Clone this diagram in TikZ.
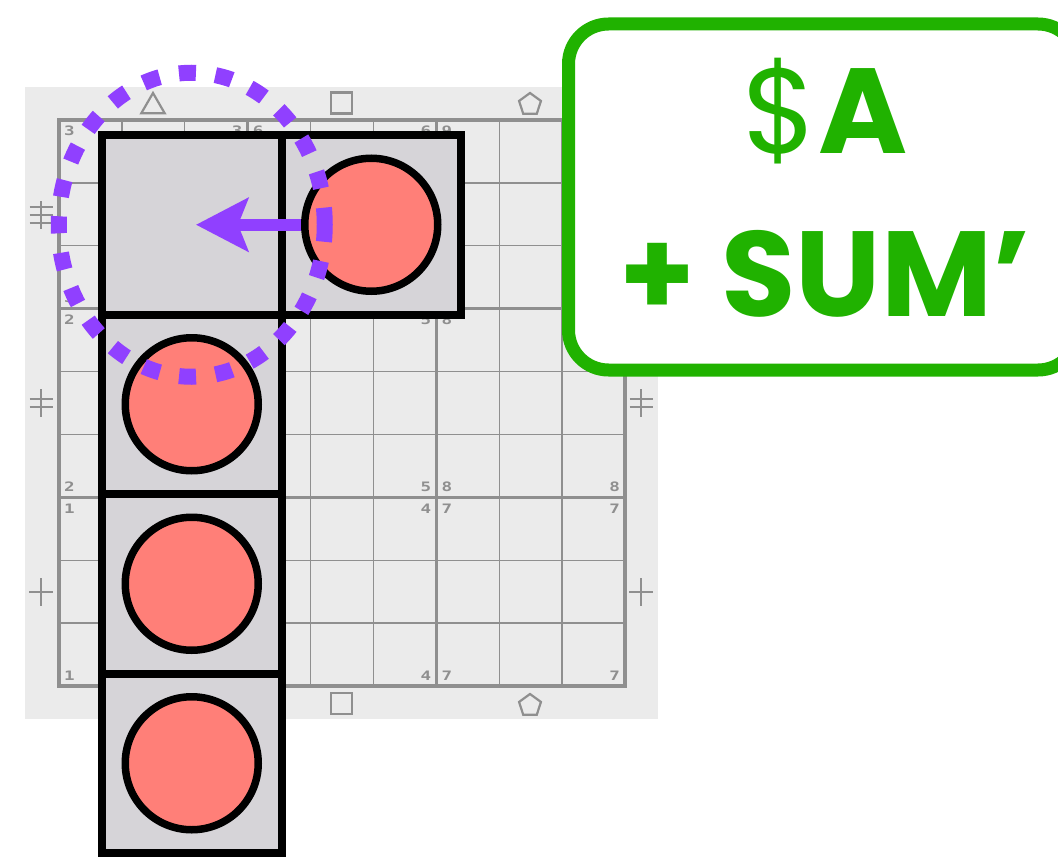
\documentclass[tikz,border=0pt]{standalone}
\usepackage{fontspec}
\setmainfont{Poppins}
\newfontfamily\digitfont{DejaVu Sans Mono}
\usetikzlibrary{arrows.meta,shapes.geometric}
\definecolor{bgray}{RGB}{235,235,235}
\definecolor{gline}{RGB}{143,143,143}
\definecolor{cellfill}{RGB}{214,212,216}
\definecolor{salmon}{RGB}{255,127,120}
\definecolor{purp}{RGB}{144,64,255}
\definecolor{grn}{RGB}{32,178,0}
\begin{document}
\begin{tikzpicture}[x=1pt,y=-1pt,
  gthin/.style={draw=gline, line width=1.4},
  gthick/.style={draw=gline, line width=3.2},
  sym/.style={draw=gline, line width=2.2},
  symnode/.style={draw=gline, line width=2.2, inner sep=0, fill=none},
  lab/.style={font=\digitfont\bfseries\fontsize{13}{13}\selectfont, text=gline, inner sep=0},
  cellbox/.style={rectangle, draw=black, line width=8, fill=cellfill, minimum size=179.5, inner sep=0},
  token/.style={circle, draw=black, line width=7.5, fill=salmon, minimum size=133, inner sep=0},
  movearrow/.style={draw=purp, line width=12.5, -{Stealth[length=52pt, width=53pt, inset=10pt]}},
  region/.style={draw=purp, line width=16, dash pattern=on 17pt off 19.64pt},
  greenbox/.style={rectangle, draw=grn, line width=13, rounded corners=40, fill=white, minimum width=509.5, minimum height=346, inner sep=0},
  bigtext/.style={text=grn, inner sep=0, anchor=base, font=\fontsize{121}{121}\selectfont}
]
\useasboundingbox (0,0) rectangle (1058,859);
% board background
\fill[bgray] (25,87) rectangle (658,719);
% grid
\foreach \i in {1,2,4,5,7,8}{
  \draw[gthin] ({59+\i*566/9},120) -- ({59+\i*566/9},686);
  \draw[gthin] (59,{120+\i*566/9}) -- (625,{120+\i*566/9});
}
\foreach \i in {3,6}{
  \draw[gthick] ({59+\i*566/9},120) -- ({59+\i*566/9},686);
  \draw[gthick] (59,{120+\i*566/9}) -- (625,{120+\i*566/9});
}
\draw[gthick] (59,120) rectangle (625,686);
% block corner labels
\foreach \c in {1,2,3}{
  \foreach \r in {1,2,3}{
    \pgfmathtruncatemacro\n{3*(\c-1)+4-\r}
    \pgfmathsetmacro\bx{59+(\c-1)*566/3}
    \pgfmathsetmacro\by{120+(\r-1)*566/3}
    \node[lab, name=l\c\r-a] at (\bx+10.5,\by+11) {\scalebox{1.35}[1]{\n}};
    \node[lab, name=l\c\r-b] at (\bx+178.2,\by+11) {\scalebox{1.35}[1]{\n}};
    \node[lab, name=l\c\r-c] at (\bx+10.5,\by+178.2) {\scalebox{1.35}[1]{\n}};
    \node[lab, name=l\c\r-d] at (\bx+178.2,\by+178.2) {\scalebox{1.35}[1]{\n}};
  }
}
% top and bottom clue symbols
\node[symnode, regular polygon, regular polygon sides=3, minimum size=27] (ttri) at (153,106.5) {};
\node[symnode, rectangle, minimum width=21, minimum height=21] (tsq) at (341.5,103) {};
\node[symnode, regular polygon, regular polygon sides=5, minimum size=23] (tpen) at (530,104.5) {};
\node[symnode, regular polygon, regular polygon sides=3, minimum size=27] (btri) at (153,707) {};
\node[symnode, rectangle, minimum width=21, minimum height=21] (bsq) at (341.5,703.5) {};
\node[symnode, regular polygon, regular polygon sides=5, minimum size=23] (bpen) at (530,705.5) {};
% left and right clue symbols
\foreach \x in {41,641}{
  \draw[sym] (\x,201) -- (\x,229);
  \foreach \d in {-8,0,8} \draw[sym] (\x-11.5,215+\d) -- (\x+11.5,215+\d);
  \draw[sym] (\x,389) -- (\x,417);
  \foreach \d in {-4,4} \draw[sym] (\x-11.5,403+\d) -- (\x+11.5,403+\d);
  \draw[sym] (\x,578) -- (\x,606);
  \draw[sym] (\x-12,592) -- (\x+12,592);
}
% pieces
\node[cellbox] (c1) at (191.75,224.75) {};
\node[cellbox] (c2) at (371.25,224.75) {};
\node[cellbox] (c3) at (191.75,404.25) {};
\node[cellbox] (c4) at (191.75,583.75) {};
\node[cellbox] (c5) at (191.75,763.25) {};
\coordinate (tip) at (196,224.75);
\draw[movearrow] (c2.center) -- (tip);
\node[token] (t2) at (c2.center) {};
\node[token] (t3) at (c3.center) {};
\node[token] (t4) at (c4.center) {};
\node[token] (t5) at (c5.center) {};
\draw[region] (c1.center) ellipse [x radius=133, y radius=152];
% label box
\node[greenbox] (tbox) at (823.25,197) {};
\node[bigtext] (line1) at (825,153) {\$\textbf{A}};
\node[bigtext] (line2) at (825,316) {\textbf{+ SUM’}};
\end{tikzpicture}
\end{document}
